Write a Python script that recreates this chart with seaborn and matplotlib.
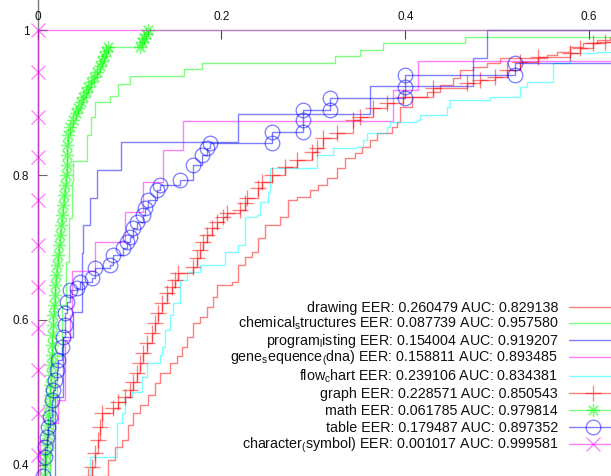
import matplotlib
matplotlib.use("Agg")
import matplotlib.pyplot as plt
import seaborn as sns
from matplotlib.lines import Line2D
from matplotlib.ticker import FuncFormatter

# ---------------- data (false positive rate, true positive rate) ----------------
drawing_x = [0.0, 0.0721, 0.0765, 0.0841, 0.0917, 0.0982, 0.1037, 0.1113, 0.1200, 0.1276, 0.1331,
             0.1439, 0.1516, 0.1570, 0.1624, 0.1690, 0.1766, 0.1842, 0.1907, 0.1951, 0.2114,
             0.2179, 0.2256, 0.2332, 0.2397, 0.2473, 0.2637, 0.2724, 0.2821, 0.2963, 0.3050,
             0.3148, 0.3256, 0.3344, 0.3453, 0.3529, 0.3616, 0.3692, 0.3855, 0.3910, 0.3942,
             0.4073, 0.4236, 0.4377, 0.4519, 0.4595, 0.4737, 0.4889, 0.5030, 0.5542, 0.5651,
             0.5792, 0.5934, 0.6086, 0.6227, 1.0]
drawing_y = [0.0, 0.385, 0.407, 0.425, 0.434, 0.455, 0.472, 0.483, 0.497, 0.513, 0.527,
             0.541, 0.550, 0.563, 0.577, 0.596, 0.604, 0.618, 0.632, 0.648, 0.652,
             0.676, 0.687, 0.694, 0.713, 0.731, 0.742, 0.766, 0.770, 0.779, 0.786,
             0.796, 0.810, 0.823, 0.830, 0.839, 0.848, 0.858, 0.866, 0.873, 0.894,
             0.908, 0.914, 0.924, 0.934, 0.945, 0.949, 0.954, 0.961, 0.966, 0.970,
             0.977, 0.982, 0.986, 0.990, 1.0]

chem_x = [0.0, 0.0101, 0.0134, 0.0166, 0.0210, 0.0264, 0.0308, 0.0341, 0.0373, 0.0384, 0.0540,
          0.0577, 0.0623, 0.0787, 0.0877, 0.1004, 0.1592, 0.1784, 0.3235, 0.3507, 0.3757,
          0.4649, 1.0]
chem_y = [0.0, 0.300, 0.420, 0.480, 0.550, 0.620, 0.680, 0.740, 0.790, 0.820, 0.855,
          0.880, 0.901, 0.909, 0.926, 0.937, 0.946, 0.955, 0.964, 0.972, 0.982,
          0.991, 1.0]

prog_x = [0.0, 0.0188, 0.0275, 0.0384, 0.0482, 0.0496, 0.0569, 0.0642, 0.0903, 0.2183, 0.3616,
          0.4740, 0.4886, 1.0]
prog_y = [0.0, 0.494, 0.577, 0.611, 0.692, 0.731, 0.768, 0.807, 0.846, 0.884, 0.923,
          0.961, 1.000, 1.0]

gene_x = [0.0, 0.0025, 0.0112, 0.0221, 0.0297, 0.0351, 0.0370, 0.0624, 0.0950, 0.1149, 0.1367,
          0.1584, 0.3870, 0.4138, 1.0]
gene_y = [0.0, 0.434, 0.458, 0.490, 0.572, 0.607, 0.667, 0.708, 0.749, 0.791, 0.834,
          0.874, 0.917, 0.957, 1.0]

flow_x = [0.0, 0.0504, 0.0569, 0.0863, 0.0917, 0.0950, 0.1026, 0.1135, 0.1189, 0.1331, 0.1352,
          0.1385, 0.1439, 0.1472, 0.1548, 0.1624, 0.1766, 0.2038, 0.2179, 0.2256, 0.2386,
          0.2419, 0.2506, 0.2528, 0.3039, 0.3213, 0.3474, 0.3540, 0.3583, 0.3801, 0.3833,
          0.4127, 0.4160, 0.4454, 0.4486, 0.4922, 0.5248, 0.5324, 0.5607, 0.5792, 0.6086, 1.0]
flow_y = [0.0, 0.379, 0.411, 0.458, 0.472, 0.494, 0.501, 0.521, 0.541, 0.552, 0.563,
          0.586, 0.607, 0.623, 0.655, 0.666, 0.676, 0.694, 0.703, 0.742, 0.745,
          0.763, 0.777, 0.810, 0.828, 0.837, 0.839, 0.848, 0.858, 0.866, 0.873,
          0.876, 0.883, 0.894, 0.903, 0.908, 0.921, 0.928, 0.954, 0.968, 0.970, 1.0]

graph_x = [0.0, 0.0547, 0.0588, 0.0623, 0.0656, 0.0678, 0.0696, 0.0819, 0.0874, 0.0950, 0.1004,
           0.1037, 0.1080, 0.1113, 0.1146, 0.1189, 0.1244, 0.1276, 0.1309, 0.1352, 0.1407,
           0.1461, 0.1494, 0.1527, 0.1690, 0.1733, 0.1766, 0.1798, 0.1842, 0.1896, 0.1951,
           0.2016, 0.2060, 0.2201, 0.2256, 0.2277, 0.2397, 0.2440, 0.2549, 0.2691, 0.2821,
           0.2985, 0.3039, 0.3104, 0.3256, 0.3431, 0.3507, 0.3648, 0.3800, 0.3975, 0.4301,
           0.4671, 0.4812, 0.4976, 0.5106, 0.5248, 0.5444, 0.5792, 0.5901, 0.6042, 0.6173, 1.0]
graph_y = [0.0, 0.385, 0.397, 0.417, 0.434, 0.452, 0.472, 0.479, 0.487, 0.494, 0.503,
           0.514, 0.527, 0.541, 0.554, 0.568, 0.582, 0.596, 0.610, 0.623, 0.637,
           0.646, 0.655, 0.665, 0.673, 0.686, 0.697, 0.708, 0.717, 0.727, 0.735,
           0.742, 0.748, 0.752, 0.761, 0.768, 0.782, 0.790, 0.800, 0.811, 0.821,
           0.832, 0.837, 0.851, 0.858, 0.876, 0.880, 0.892, 0.899, 0.908, 0.920,
           0.927, 0.931, 0.935, 0.945, 0.956, 0.963, 0.968, 0.975, 0.982, 0.983, 1.0]

math_x = [0.0, 0.0069, 0.0079, 0.0090, 0.0101, 0.0101, 0.0112, 0.0112, 0.0123, 0.0134, 0.0134,
          0.0145, 0.0145, 0.0156, 0.0156, 0.0156, 0.0166, 0.0166, 0.0177, 0.0188, 0.0188,
          0.0199, 0.0210, 0.0221, 0.0232, 0.0243, 0.0254, 0.0264, 0.0275, 0.0286, 0.0297,
          0.0308, 0.0319, 0.0319, 0.0319, 0.0330, 0.0351, 0.0384, 0.0417, 0.0439, 0.0471,
          0.0493, 0.0526, 0.0547, 0.0580, 0.0613, 0.0645, 0.0678, 0.0700, 0.0721, 0.0743,
          0.0765, 0.1113, 0.1135, 0.1157, 0.1178, 0.1200, 1.0]
math_y = [0.0, 0.385, 0.400, 0.414, 0.428, 0.441, 0.455, 0.469, 0.483, 0.497, 0.510,
          0.524, 0.538, 0.552, 0.566, 0.579, 0.593, 0.607, 0.621, 0.634, 0.648,
          0.662, 0.676, 0.690, 0.703, 0.717, 0.731, 0.745, 0.759, 0.772, 0.786,
          0.800, 0.814, 0.828, 0.841, 0.855, 0.866, 0.876, 0.886, 0.892, 0.901,
          0.908, 0.914, 0.921, 0.928, 0.935, 0.942, 0.950, 0.957, 0.964, 0.971,
          0.977, 0.977, 0.983, 0.989, 0.994, 1.000, 1.0]

table_x = [0.0, 0.0058, 0.0079, 0.0079, 0.0101, 0.0112, 0.0134, 0.0156, 0.0166, 0.0188, 0.0210,
           0.0221, 0.0264, 0.0275, 0.0297, 0.0297, 0.0319, 0.0351, 0.0428, 0.0460, 0.0591,
           0.0624, 0.0787, 0.0819, 0.0928, 0.0972, 0.1004, 0.1037, 0.1079, 0.1146, 0.1167,
           0.1200, 0.1298, 0.1331, 0.1550, 0.1690, 0.1788, 0.1842, 0.1875, 0.2550, 0.2550,
           0.2887, 0.2887, 0.2887, 0.3181, 0.3181, 0.3997, 0.3997, 0.3997, 0.5194, 0.5194, 1.0]
table_y = [0.0, 0.385, 0.411, 0.425, 0.439, 0.452, 0.466, 0.490, 0.503, 0.517, 0.531,
           0.545, 0.563, 0.577, 0.593, 0.610, 0.625, 0.641, 0.644, 0.652, 0.658,
           0.672, 0.676, 0.690, 0.699, 0.708, 0.714, 0.727, 0.735, 0.745, 0.754,
           0.766, 0.779, 0.786, 0.793, 0.814, 0.828, 0.837, 0.844, 0.844, 0.859,
           0.859, 0.876, 0.890, 0.890, 0.906, 0.906, 0.921, 0.938, 0.938, 0.954, 1.0]

char_x = [0.0, 0.0, 0.0, 0.0, 0.0, 0.0, 0.0, 0.0, 0.0, 0.0, 0.0, 0.0, 0.0, 1.0]
char_y = [0.0, 0.356, 0.414, 0.472, 0.531, 0.589, 0.645, 0.703, 0.766, 0.825, 0.880,
          0.942, 1.000, 1.0]

labels = [
    "drawing EER: 0.260479 AUC: 0.829138",
    "chemical$_\\mathregular{s}$tructures EER: 0.087739 AUC: 0.957580",
    "program$_\\mathregular{l}$isting EER: 0.154004 AUC: 0.919207",
    "gene$_\\mathregular{s}$equence$_\\mathregular{(}$dna) EER: 0.158811 AUC: 0.893485",
    "flow$_\\mathregular{c}$hart EER: 0.239106 AUC: 0.834381",
    "graph EER: 0.228571 AUC: 0.850543",
    "math EER: 0.061785 AUC: 0.979814",
    "table EER: 0.179487 AUC: 0.897352",
    "character$_\\mathregular{(}$symbol) EER: 0.001017 AUC: 0.999581",
]
colors = ["#ff0000", "#00ff00", "#0000ff", "#ff00ff", "#00ffff",
          "#ff0000", "#00ff00", "#0000ff", "#ff00ff"]
markers = [None, None, None, None, None, "+", (8, 2, 0), "o", "x"]
marker_sizes = [0, 0, 0, 0, 0, 11, 9.5, 10.5, 10]
xs = [drawing_x, chem_x, prog_x, gene_x, flow_x, graph_x, math_x, table_x, char_x]
ys = [drawing_y, chem_y, prog_y, gene_y, flow_y, graph_y, math_y, table_y, char_y]

# ---------------- style ----------------
sns.set_theme(style="white")
plt.rcParams["font.family"] = ["Liberation Sans", "DejaVu Sans"]
plt.rcParams["mathtext.fontset"] = "custom"
plt.rcParams["mathtext.rm"] = "Liberation Sans"
plt.rcParams["mathtext.it"] = "Liberation Sans:italic"
plt.rcParams["mathtext.bf"] = "Liberation Sans:bold"

W, H = 611, 476
fig = plt.figure(figsize=(W / 100, H / 100), dpi=100)
ax = fig.add_axes([0, 0, 1, 1])
ax.set_facecolor("white")

ALPHA = 0.5
for x, y, c, m, ms in zip(xs, ys, colors, markers, marker_sizes):
    kw = dict(x=x, y=y, ax=ax, estimator=None, sort=False, color=c, alpha=ALPHA,
              linewidth=1.0, drawstyle="steps-post", legend=False)
    if m is not None:
        kw.update(marker=m, markersize=ms, markeredgecolor=c, markerfacecolor="none",
                  markeredgewidth=0.95)
    sns.lineplot(**kw)

ax.set_xlim(-0.0410, 0.6238)
ax.set_ylim(0.3848, 1.0414)

for s in ["right", "bottom"]:
    ax.spines[s].set_visible(False)
ax.spines["top"].set_position(("data", 1))
ax.spines["top"].set_color("none")
ax.spines["left"].set_position(("data", 0))
ax.spines["left"].set_color("#777777")
ax.spines["left"].set_linewidth(1.0)
ax.spines["left"].set_zorder(0.5)

ax.set_xticks([0, 0.2, 0.4, 0.6])
ax.set_yticks([0.4, 0.6, 0.8, 1.0])
fmt = FuncFormatter(lambda v, p: "%g" % v)
ax.xaxis.set_major_formatter(fmt)
ax.yaxis.set_major_formatter(fmt)
ax.xaxis.set_ticks_position("top")
ax.tick_params(axis="x", direction="in", length=6.5, width=0.8, color="#444444",
               pad=5, labelsize=8.5, top=True, bottom=False, labeltop=True,
               labelbottom=False, labelcolor="#111111")
ax.tick_params(axis="y", direction="in", length=6.5, width=0.8, color="#666666",
               pad=6, labelsize=8.5, left=True, right=False, labelcolor="#111111")
ax.set_xlabel("")
ax.set_ylabel("")
ax.grid(False)

# ---------------- key (gnuplot style, right-aligned text, sample on the right) ----------------
key_rows = [307, 323, 340, 357, 376, 393, 410, 427, 444]   # row centres, pixels from top
text_right = 558.0
sample_x0, sample_x1, sample_mid = 569.0, 625.0, 593.0
for row, lab, c, m, ms in zip(key_rows, labels, colors, markers, marker_sizes):
    yc = 1 - row / H
    yb = 1 - (row + 5.0) / H
    ax.text(text_right / W, yb, lab, transform=ax.transAxes, ha="right", va="baseline",
            fontsize=10.3, color="#111111")
    ax.add_line(Line2D([sample_x0 / W, sample_x1 / W], [yc, yc], transform=ax.transAxes,
                       color=c, alpha=ALPHA, linewidth=1.0, clip_on=False))
    if m is not None:
        ax.add_line(Line2D([sample_mid / W], [yc], transform=ax.transAxes, linestyle="none",
                           marker=m, markersize=ms, markeredgecolor=c, markerfacecolor="none",
                           markeredgewidth=0.95, alpha=ALPHA, clip_on=False))

fig.savefig("out.png", dpi=100)
